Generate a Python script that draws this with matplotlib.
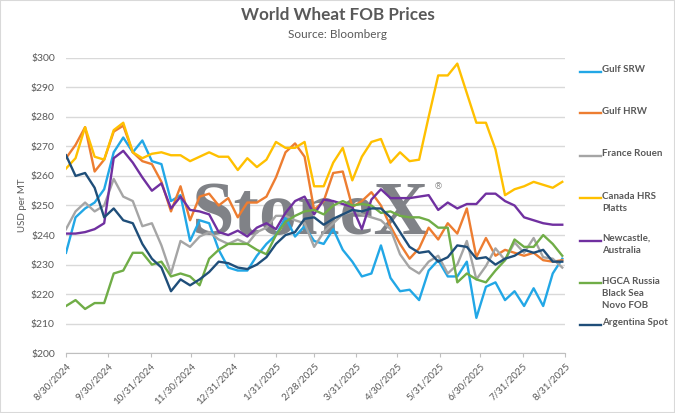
import datetime as dt
import pandas as pd
import matplotlib
matplotlib.use("Agg")
import matplotlib.pyplot as plt
from matplotlib.lines import Line2D
from matplotlib.patches import Rectangle

plt.rcParams['font.family'] = ['Lato', 'DejaVu Sans']

# weekly Friday observations, 8/30/2024 .. 8/29/2025
dates = pd.date_range('2024-08-30', periods=53, freq='7D')

gulf_srw = [234, 246, 249, 251, 255.5, 268, 273, 268, 272, 265, 264, 251.5, 253.5, 238,
            245, 244, 235, 229, 228, 228, 233, 237, 240, 246, 239.5, 243, 238, 237, 242,
            235, 231, 226, 227, 236.5, 225.5, 221, 221.5, 218, 228, 231.5, 226, 226, 231,
            212, 222.5, 224, 218, 221, 216, 222, 216, 227, 232]
gulf_hrw = [266, 270.5, 276.5, 261.5, 265.5, 275, 277, 268, 265, 264, 258, 248, 256.5, 245,
            253, 254, 250, 252.5, 246, 251, 251, 253, 259.5, 268, 271, 266.5, 248.5, 251.5,
            261, 261.5, 249.5, 251.5, 254.5, 250, 243, 237, 232, 235.5, 242.5, 238.5, 244,
            240.5, 249, 232.5, 239, 233, 235, 234, 233, 234, 231.5, 231, 231.5]
france_rouen = [242, 248, 251, 248, 250, 259, 253, 251.5, 243, 244, 236.5, 227, 238, 236,
                239.5, 241, 238.5, 237, 238.5, 237, 241, 242.5, 246.5, 246.5, 245, 244, 236,
                241, 244, 247, 248, 247, 246, 245, 242, 233.5, 229, 227, 231, 233, 227, 230,
                238, 225, 229.5, 235.5, 231.5, 237.5, 234, 239, 232.5, 232, 229]
canada_hrs = [262.5, 266, 276.5, 266.5, 265.5, 275.5, 278, 268, 266, 267.5, 268, 267, 267,
              265, 266.5, 268, 266.5, 266.5, 262, 266, 263, 265.5, 271.5, 269.5, 269.5, 271.5,
              256.5, 256.5, 264.5, 269.5, 258.5, 266.5, 271.5, 272.5, 264.5, 268, 265, 265.5,
              280, 294, 294, 298, 288, 278, 278, 269, 253.5, 255.5, 256.5, 258, 257, 256, 258]
newcastle = [240.5, 240.5, 241, 242, 244, 266, 268.5, 264.5, 259.5, 255, 257.5, 249, 253,
             248.5, 248, 247, 241, 240, 241.5, 239.5, 242.5, 244, 242, 247.5, 251.5, 253, 247,
             252, 251.5, 250.5, 249.5, 242, 252, 255.5, 252.5, 252.5, 252.5, 253, 253.5, 248.5,
             251, 249, 250.5, 250.5, 254, 254, 251.5, 250, 246, 245, 244, 243.5, 243.5]
hgca_russia = [216, 218, 215, 217, 217, 227, 228, 234, 234, 230, 231, 226, 227, 226, 223, 232,
               235, 237, 237, 237, 235, 233.5, 240, 244.5, 246.5, 248, 248.5, 247, 250, 251.5,
               250, 250.5, 250, 247.5, 248, 246.5, 246, 246, 245, 242.5, 242.5, 224, 227, 225,
               224, 228, 231.5, 238.5, 236, 236, 240, 237, 233]
argentina = [267, 260, 261, 256, 246, 249, 245, 244, 237, 232, 229, 221, 225, 223, 225, 227.5,
             231, 230.5, 229, 228.5, 230, 232.5, 237, 240, 241, 245.5, 246, 243.5, 245.5, 247,
             248.5, 248, 249, 249, 246, 241, 236, 234, 234.5, 231, 232.5, 236.5, 236, 232,
             232.5, 230, 232, 233, 235, 234, 235, 231, 231]

series_names = ['Gulf SRW', 'Gulf HRW', 'France Rouen', 'Canada HRS\nPlatts',
                'Newcastle,\nAustralia', 'HGCA Russia\nBlack Sea\nNovo FOB', 'Argentina Spot']
series_values = [gulf_srw, gulf_hrw, france_rouen, canada_hrs, newcastle, hgca_russia, argentina]
series_colors = ['#22A7E6', '#ED7D31', '#A5A5A5', '#FFC000', '#7030A0', '#70AD47', '#1F4E79']

tick_dates = ['2024-08-30', '2024-09-30', '2024-10-31', '2024-11-30', '2024-12-31',
              '2025-01-31', '2025-02-28', '2025-03-31', '2025-04-30', '2025-05-31',
              '2025-06-30', '2025-07-31', '2025-08-31']
tick_labels = ['8/30/2024', '9/30/2024', '10/31/2024', '11/30/2024', '12/31/2024',
               '1/31/2025', '2/28/2025', '3/31/2025', '4/30/2025', '5/31/2025',
               '6/30/2025', '7/31/2025', '8/31/2025']
y_ticks = list(range(200, 301, 10))

txt = '#595959'

fig = plt.figure(figsize=(6.75, 4.13), dpi=100)
fig.add_artist(Rectangle((0, 0), 1, 1, transform=fig.transFigure, fill=False,
                         edgecolor='#D9D9D9', lw=1.5))
ax = fig.add_axes([66 / 675, 1 - 353.3 / 413, (565 - 66) / 675, 295.6 / 413])

for vals, col in zip(series_values, series_colors):
    ax.plot(dates, vals, color=col, lw=1.7, zorder=3)

# watermark behind the lines
ax.text(0.490, 0.4036, 'StoneX', transform=ax.transAxes, ha='center', va='baseline',
        fontsize=55, family='Liberation Serif', fontweight='bold', color='#808287', zorder=1)
ax.text(0.745, 0.565, '®', transform=ax.transAxes, ha='center', va='center',
        fontsize=6.5, family='DejaVu Sans', color='#8C8C8C', zorder=1)

ax.set_ylim(200, 300)
ax.set_yticks(y_ticks)
ax.set_yticklabels([f'${v}' for v in y_ticks], fontsize=7.5, color=txt)
ax.set_xlim(dt.date(2024, 8, 30), dt.date(2025, 8, 31))
ax.set_xticks(pd.to_datetime(tick_dates))
ax.set_xticklabels(tick_labels, rotation=45, ha='right', va='top',
                   rotation_mode='anchor', fontsize=7, color=txt)
ax.tick_params(axis='y', length=0, pad=8)
ax.tick_params(axis='x', length=3, color='#BFBFBF', pad=3)
ax.yaxis.grid(True, color='#D9D9D9', lw=1)
ax.set_axisbelow(True)
for s in ['top', 'right', 'left']:
    ax.spines[s].set_visible(False)
ax.spines['bottom'].set_color('#BFBFBF')
ax.set_ylabel('USD per MT', fontsize=7, color=txt, labelpad=3)

fig.text(0.5, 1 - 15 / 413, 'World Wheat FOB Prices', ha='center', va='center',
         fontsize=12.3, fontweight='bold', color=txt)
fig.text(0.5, 1 - 35 / 413, 'Source: Bloomberg', ha='center', va='center',
         fontsize=8.5, color=txt)

# legend on the right, drawn by hand so the swatch sits on the first text line
legend_y = [71.7, 113.3, 156, 198.3, 240.7, 283.3, 325]
for name, col, ly in zip(series_names, series_colors, legend_y):
    yf = 1 - ly / 413
    fig.add_artist(Line2D([580 / 675, 601 / 675], [yf, yf], color=col, lw=1.7,
                          transform=fig.transFigure))
    fig.text(602 / 675, yf + 0.016, name, ha='left', va='top', fontsize=7,
             fontweight='bold', color=txt, linespacing=1.45)

fig.savefig('out.png', dpi=100)
